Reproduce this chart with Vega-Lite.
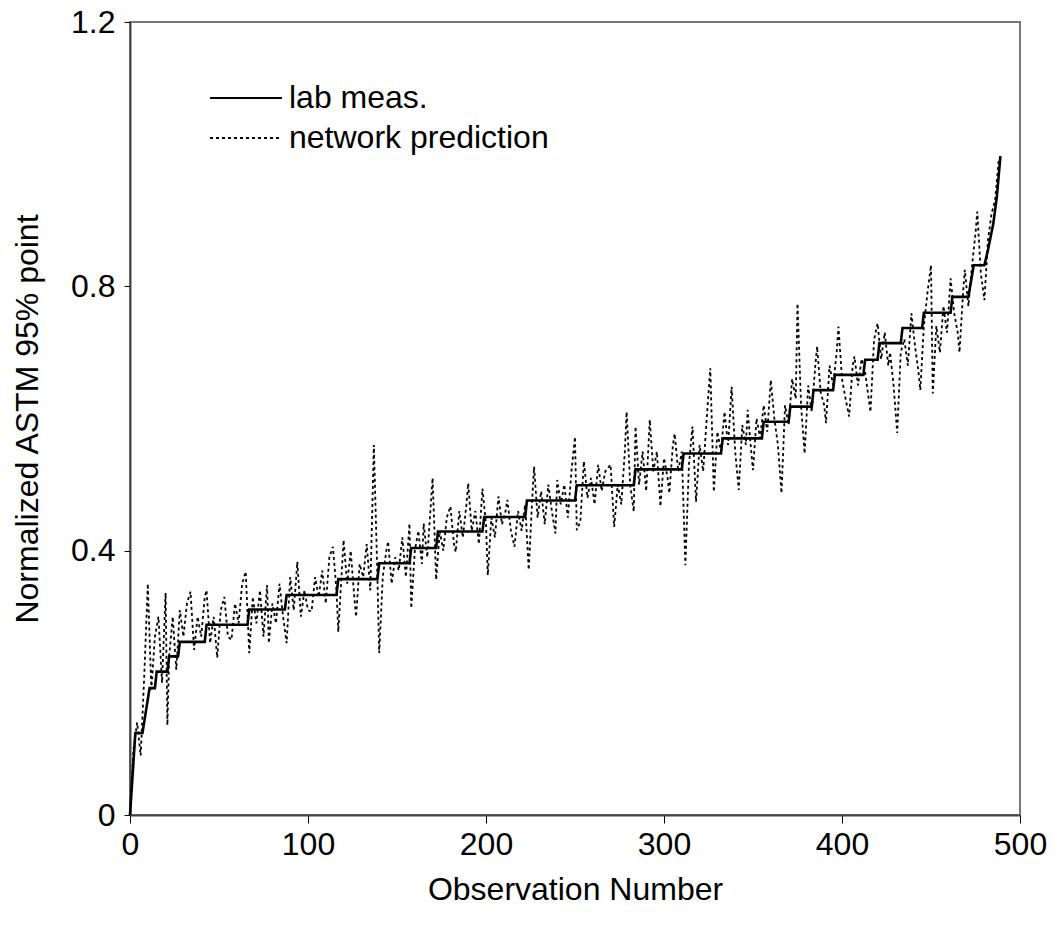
{
  "$schema": "https://vega.github.io/schema/vega-lite/v6.json",
  "autosize": {"type": "none"},
  "padding": {"left": 130, "top": 22, "right": 37, "bottom": 120},
  "width": 890,
  "height": 793,
  "background": "white",
  "config": {
    "view": {"stroke": "#777", "strokeWidth": 2},
    "font": "Liberation Sans",
    "axis": {"grid": false, "labelFont": "Liberation Sans", "titleFont": "Liberation Sans", "labelColor": "black", "titleColor": "black", "domainColor": "#444", "domainWidth": 2, "tickColor": "black", "titleFontWeight": "normal", "labelFlush": false}
  },
  "datasets": {
    "lab": [
      {"obs":0,"value":0},{"obs":3,"value":0.124},{"obs":7,"value":0.124},{"obs":11,"value":0.192},{"obs":14,"value":0.192},{"obs":15,"value":0.217},{"obs":21,"value":0.217},{"obs":22,"value":0.24},{"obs":27,"value":0.24},{"obs":28,"value":0.262},{"obs":42,"value":0.262},{"obs":43,"value":0.288},{"obs":66,"value":0.288},{"obs":67,"value":0.311},{"obs":87,"value":0.311},{"obs":88,"value":0.333},{"obs":116,"value":0.333},{"obs":117,"value":0.357},{"obs":139,"value":0.357},{"obs":140,"value":0.381},{"obs":157,"value":0.381},{"obs":158,"value":0.404},{"obs":172,"value":0.404},{"obs":173,"value":0.429},{"obs":198,"value":0.429},{"obs":199,"value":0.451},{"obs":222,"value":0.451},{"obs":223,"value":0.476},{"obs":250,"value":0.476},{"obs":251,"value":0.499},{"obs":283,"value":0.499},{"obs":284,"value":0.523},{"obs":310,"value":0.523},{"obs":311,"value":0.547},{"obs":332,"value":0.547},{"obs":333,"value":0.57},{"obs":355,"value":0.57},{"obs":356,"value":0.595},{"obs":370,"value":0.595},{"obs":371,"value":0.618},{"obs":383,"value":0.618},{"obs":384,"value":0.643},{"obs":395,"value":0.643},{"obs":396,"value":0.666},{"obs":412,"value":0.666},{"obs":413,"value":0.689},{"obs":420,"value":0.689},{"obs":421,"value":0.714},{"obs":433,"value":0.714},{"obs":434,"value":0.737},{"obs":445,"value":0.737},{"obs":446,"value":0.76},{"obs":461,"value":0.76},{"obs":462,"value":0.784},{"obs":471,"value":0.784},{"obs":474,"value":0.832},{"obs":480,"value":0.832},{"obs":482,"value":0.855},{"obs":485,"value":0.895},{"obs":487,"value":0.936},{"obs":489,"value":0.997}
    ],
    "pred": [
      {"obs":0,"value":0.0},{"obs":2,"value":0.10},{"obs":4,"value":0.14},{"obs":6,"value":0.09},{"obs":8,"value":0.21},{"obs":10,"value":0.35},{"obs":12,"value":0.19},{"obs":14,"value":0.27},{"obs":16,"value":0.30},{"obs":18,"value":0.20},{"obs":20,"value":0.336},{"obs":21,"value":0.136},{"obs":22,"value":0.24},{"obs":24,"value":0.30},{"obs":26,"value":0.22},{"obs":28,"value":0.31},{"obs":30,"value":0.27},{"obs":32,"value":0.32},{"obs":34,"value":0.338},{"obs":36,"value":0.25},{"obs":38,"value":0.30},{"obs":40,"value":0.27},{"obs":42,"value":0.33},{"obs":43,"value":0.34},{"obs":45,"value":0.26},{"obs":47,"value":0.30},{"obs":49,"value":0.238},{"obs":51,"value":0.31},{"obs":53,"value":0.33},{"obs":55,"value":0.27},{"obs":57,"value":0.265},{"obs":59,"value":0.32},{"obs":61,"value":0.29},{"obs":63,"value":0.35},{"obs":65,"value":0.368},{"obs":67,"value":0.245},{"obs":69,"value":0.33},{"obs":71,"value":0.29},{"obs":73,"value":0.34},{"obs":75,"value":0.27},{"obs":77,"value":0.348},{"obs":78,"value":0.26},{"obs":80,"value":0.32},{"obs":82,"value":0.29},{"obs":84,"value":0.35},{"obs":86,"value":0.30},{"obs":88,"value":0.26},{"obs":90,"value":0.36},{"obs":92,"value":0.31},{"obs":94,"value":0.383},{"obs":96,"value":0.30},{"obs":98,"value":0.34},{"obs":100,"value":0.31},{"obs":102,"value":0.308},{"obs":104,"value":0.36},{"obs":106,"value":0.33},{"obs":108,"value":0.37},{"obs":110,"value":0.32},{"obs":112,"value":0.39},{"obs":114,"value":0.406},{"obs":116,"value":0.34},{"obs":117,"value":0.277},{"obs":119,"value":0.37},{"obs":120,"value":0.416},{"obs":122,"value":0.35},{"obs":124,"value":0.40},{"obs":126,"value":0.33},{"obs":127,"value":0.30},{"obs":129,"value":0.38},{"obs":131,"value":0.36},{"obs":133,"value":0.41},{"obs":135,"value":0.34},{"obs":137,"value":0.56},{"obs":139,"value":0.36},{"obs":140,"value":0.245},{"obs":142,"value":0.36},{"obs":144,"value":0.40},{"obs":145,"value":0.414},{"obs":147,"value":0.35},{"obs":149,"value":0.39},{"obs":151,"value":0.37},{"obs":153,"value":0.42},{"obs":155,"value":0.36},{"obs":157,"value":0.441},{"obs":158,"value":0.313},{"obs":160,"value":0.40},{"obs":162,"value":0.43},{"obs":164,"value":0.38},{"obs":165,"value":0.441},{"obs":167,"value":0.39},{"obs":170,"value":0.51},{"obs":172,"value":0.356},{"obs":174,"value":0.43},{"obs":176,"value":0.40},{"obs":178,"value":0.45},{"obs":180,"value":0.467},{"obs":182,"value":0.41},{"obs":183,"value":0.398},{"obs":185,"value":0.46},{"obs":187,"value":0.42},{"obs":189,"value":0.47},{"obs":190,"value":0.502},{"obs":192,"value":0.43},{"obs":194,"value":0.46},{"obs":196,"value":0.41},{"obs":198,"value":0.494},{"obs":200,"value":0.44},{"obs":201,"value":0.363},{"obs":203,"value":0.45},{"obs":205,"value":0.42},{"obs":207,"value":0.482},{"obs":209,"value":0.44},{"obs":211,"value":0.46},{"obs":212,"value":0.477},{"obs":214,"value":0.43},{"obs":216,"value":0.406},{"obs":218,"value":0.46},{"obs":220,"value":0.43},{"obs":222,"value":0.47},{"obs":224,"value":0.371},{"obs":226,"value":0.48},{"obs":227,"value":0.527},{"obs":229,"value":0.45},{"obs":231,"value":0.49},{"obs":233,"value":0.44},{"obs":235,"value":0.50},{"obs":237,"value":0.46},{"obs":239,"value":0.426},{"obs":240,"value":0.507},{"obs":242,"value":0.47},{"obs":244,"value":0.50},{"obs":246,"value":0.45},{"obs":248,"value":0.52},{"obs":250,"value":0.572},{"obs":251,"value":0.431},{"obs":253,"value":0.444},{"obs":255,"value":0.535},{"obs":257,"value":0.48},{"obs":259,"value":0.51},{"obs":261,"value":0.47},{"obs":263,"value":0.53},{"obs":265,"value":0.49},{"obs":267,"value":0.52},{"obs":270,"value":0.53},{"obs":272,"value":0.436},{"obs":274,"value":0.50},{"obs":276,"value":0.47},{"obs":278,"value":0.55},{"obs":279,"value":0.61},{"obs":281,"value":0.50},{"obs":283,"value":0.459},{"obs":284,"value":0.588},{"obs":286,"value":0.50},{"obs":288,"value":0.55},{"obs":290,"value":0.49},{"obs":292,"value":0.598},{"obs":294,"value":0.52},{"obs":296,"value":0.55},{"obs":298,"value":0.467},{"obs":300,"value":0.54},{"obs":302,"value":0.51},{"obs":303,"value":0.487},{"obs":305,"value":0.56},{"obs":306,"value":0.577},{"obs":308,"value":0.52},{"obs":310,"value":0.55},{"obs":312,"value":0.378},{"obs":314,"value":0.53},{"obs":316,"value":0.588},{"obs":318,"value":0.474},{"obs":320,"value":0.56},{"obs":322,"value":0.52},{"obs":324,"value":0.60},{"obs":326,"value":0.676},{"obs":328,"value":0.489},{"obs":330,"value":0.58},{"obs":332,"value":0.55},{"obs":334,"value":0.61},{"obs":336,"value":0.56},{"obs":338,"value":0.648},{"obs":340,"value":0.55},{"obs":342,"value":0.492},{"obs":344,"value":0.59},{"obs":346,"value":0.56},{"obs":347,"value":0.613},{"obs":349,"value":0.55},{"obs":350,"value":0.522},{"obs":352,"value":0.60},{"obs":354,"value":0.57},{"obs":356,"value":0.62},{"obs":358,"value":0.58},{"obs":360,"value":0.658},{"obs":362,"value":0.60},{"obs":364,"value":0.56},{"obs":366,"value":0.487},{"obs":368,"value":0.62},{"obs":370,"value":0.59},{"obs":372,"value":0.66},{"obs":374,"value":0.63},{"obs":375,"value":0.774},{"obs":377,"value":0.62},{"obs":379,"value":0.547},{"obs":381,"value":0.65},{"obs":383,"value":0.61},{"obs":385,"value":0.68},{"obs":386,"value":0.709},{"obs":388,"value":0.64},{"obs":390,"value":0.62},{"obs":391,"value":0.593},{"obs":393,"value":0.68},{"obs":395,"value":0.65},{"obs":397,"value":0.70},{"obs":398,"value":0.739},{"obs":400,"value":0.66},{"obs":402,"value":0.63},{"obs":404,"value":0.603},{"obs":406,"value":0.68},{"obs":407,"value":0.694},{"obs":409,"value":0.65},{"obs":411,"value":0.69},{"obs":413,"value":0.67},{"obs":415,"value":0.63},{"obs":416,"value":0.61},{"obs":418,"value":0.719},{"obs":420,"value":0.744},{"obs":422,"value":0.69},{"obs":424,"value":0.73},{"obs":426,"value":0.68},{"obs":427,"value":0.70},{"obs":429,"value":0.65},{"obs":431,"value":0.578},{"obs":433,"value":0.70},{"obs":435,"value":0.72},{"obs":437,"value":0.68},{"obs":439,"value":0.759},{"obs":441,"value":0.71},{"obs":443,"value":0.67},{"obs":444,"value":0.643},{"obs":446,"value":0.74},{"obs":448,"value":0.79},{"obs":450,"value":0.832},{"obs":451,"value":0.638},{"obs":453,"value":0.74},{"obs":455,"value":0.70},{"obs":457,"value":0.77},{"obs":459,"value":0.73},{"obs":461,"value":0.812},{"obs":463,"value":0.76},{"obs":465,"value":0.73},{"obs":466,"value":0.70},{"obs":468,"value":0.79},{"obs":469,"value":0.825},{"obs":471,"value":0.77},{"obs":473,"value":0.83},{"obs":475,"value":0.88},{"obs":476,"value":0.913},{"obs":478,"value":0.82},{"obs":480,"value":0.779},{"obs":482,"value":0.87},{"obs":484,"value":0.91},{"obs":486,"value":0.93},{"obs":488,"value":0.99}
    ]
  },
  "layer": [
    {
      "data": {"name": "pred"},
      "mark": {"type": "line", "color": "black", "strokeWidth": 1.8, "clip": true},
      "encoding": {
        "x": {"field": "obs", "type": "quantitative", "scale": {"domain": [0, 500], "nice": false},
          "axis": {"values": [0, 100, 200, 300, 400, 500], "title": "Observation Number", "labelFontSize": 32, "titleFontSize": 32, "tickSize": 8, "labelPadding": 6, "titlePadding": 14}},
        "y": {"field": "value", "type": "quantitative", "scale": {"domain": [0, 1.2], "nice": false},
          "axis": {"values": [0, 0.4, 0.8, 1.2], "format": "~g", "title": "Normalized ASTM 95% point", "labelFontSize": 32, "titleFontSize": 32, "tickSize": 6, "labelPadding": 9, "titlePadding": 26}},
        "strokeDash": {"datum": "network prediction", "type": "nominal",
          "scale": {"domain": ["lab meas.", "network prediction"], "range": [[1, 0], [3, 3]]},
          "legend": {"title": null, "orient": "none", "legendX": 100, "legendY": 60, "symbolType": "M-3,0H3", "symbolSize": 576, "symbolStrokeWidth": 2, "symbolStrokeColor": "black", "symbolFillColor": "transparent", "labelFontSize": 32, "labelFont": "Liberation Sans", "labelOffset": 27, "labelLimit": 0, "rowPadding": 8, "labelColor": "black"}}
      }
    },
    {
      "data": {"name": "lab"},
      "mark": {"type": "line", "color": "black", "strokeWidth": 2.6},
      "encoding": {
        "x": {"field": "obs", "type": "quantitative"},
        "y": {"field": "value", "type": "quantitative"},
        "strokeDash": {"datum": "lab meas.", "type": "nominal"}
      }
    }
  ]
}
